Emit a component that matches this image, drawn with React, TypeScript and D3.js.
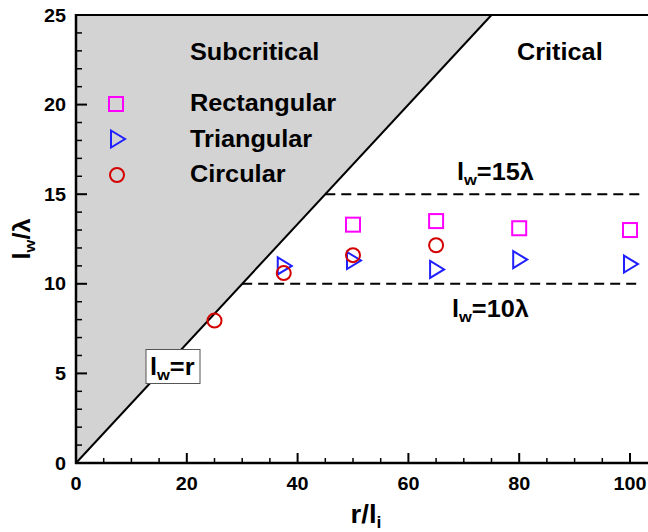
import * as d3 from "d3";

const rectX = [50, 65, 80, 100];
const rectY = [13.3, 13.5, 13.1, 13.0];
const triX = [37.5, 50, 65, 80, 100];
const triY = [11.0, 11.3, 10.8, 11.35, 11.1];
const circX = [25, 37.5, 50, 65];
const circY = [7.95, 10.6, 11.6, 12.15];
const xTicks = [0, 20, 40, 60, 80, 100];
const yTicks = [0, 5, 10, 15, 20, 25];
const boundarySlope = 1 / 3; // l_w/λ = (r/l_i) / 3
const limitLines = [10, 15];

const W = 648;
const H = 532;
const FONT = "'Liberation Sans', Arial, sans-serif";
const SX = 1.1; // picture looks a little stretched sideways

const x = d3.scaleLinear().domain([0, 100]).range([76, 630]);
const y = d3.scaleLinear().domain([0, 25]).range([463, 15]);
const xEnd = x.invert(W + 2);

function T({ x: tx, y: ty, size, anchor = "start", children, rotate = 0 }: any) {
  return (
    <text
      transform={`translate(${tx},${ty}) rotate(${rotate}) scale(${SX},1)`}
      fontFamily={FONT}
      fontWeight="bold"
      fontSize={size}
      textAnchor={anchor}
      fill="#000"
    >
      {children}
    </text>
  );
}

const triPath = "M-6,-8.5L8,0L-6,8.5Z";

export default function App() {
  const topX = x(25 / boundarySlope);
  const shade = `M${x(0)},${y(0)}L${topX},${y(25)}L${x(0)},${y(25)}Z`;
  const minorX = d3.range(0, xEnd, 5).filter((v) => v % 20 !== 0);
  const minorY = d3.range(0, 25, 1).filter((v) => v % 5 !== 0);

  return (
    <svg width={W} height={H} style={{ position: "absolute", left: 0, top: 0 }}>
      <rect width={W} height={H} fill="#fff" />
      <path d={shade} fill="#d3d3d3" />
      <line x1={x(0)} y1={y(0)} x2={topX} y2={y(25)} stroke="#000" strokeWidth={2} />

      {limitLines.map((v) => (
        <line
          key={v}
          x1={x(v / boundarySlope)}
          x2={x(102)}
          y1={y(v)}
          y2={y(v)}
          stroke="#000"
          strokeWidth={2}
          strokeDasharray="10,6"
        />
      ))}

      {/* frame + axes */}
      <line x1={x(0)} x2={W} y1={y(25)} y2={y(25)} stroke="#000" strokeWidth={2} />
      <line x1={x(0)} x2={x(0)} y1={y(0) + 1} y2={y(25) - 1} stroke="#000" strokeWidth={2.5} />
      <line x1={x(0) - 1} x2={W} y1={y(0)} y2={y(0)} stroke="#000" strokeWidth={2.5} />

      {xTicks.map((t) => (
        <g key={"xt" + t}>
          <line x1={x(t)} x2={x(t)} y1={y(0)} y2={y(0) - 10} stroke="#000" strokeWidth={2} />
          <T x={x(t)} y={490} size={18} anchor="middle">{t}</T>
        </g>
      ))}
      {minorX.map((t) => (
        <line key={"xm" + t} x1={x(t)} x2={x(t)} y1={y(0)} y2={y(0) - 5} stroke="#000" strokeWidth={1.5} />
      ))}
      {yTicks.map((t) => (
        <g key={"yt" + t}>
          <line x1={x(0)} x2={x(0) + 11} y1={y(t)} y2={y(t)} stroke="#000" strokeWidth={2} />
          <T x={66} y={y(t) + 6.5} size={18} anchor="end">{t}</T>
        </g>
      ))}
      {minorY.map((t) => (
        <line key={"ym" + t} x1={x(0)} x2={x(0) + 6} y1={y(t)} y2={y(t)} stroke="#000" strokeWidth={1.5} />
      ))}

      {/* axis titles */}
      <T x={366} y={523} size={25} anchor="middle">
        r/l<tspan fontSize={16} dy={5}>i</tspan>
      </T>
      <T x={30} y={239} size={23} anchor="middle" rotate={-90}>
        l<tspan fontSize={15} dy={5}>w</tspan>
        <tspan dy={-5}>/λ</tspan>
      </T>

      {/* region labels */}
      <T x={190} y={60} size={23}>Subcritical</T>
      <T x={517} y={60} size={23}>Critical</T>
      <T x={457} y={180} size={23}>
        l<tspan fontSize={15} dy={5}>w</tspan>
        <tspan dy={-5}>=15λ</tspan>
      </T>
      <T x={452} y={317} size={23}>
        l<tspan fontSize={15} dy={5}>w</tspan>
        <tspan dy={-5}>=10λ</tspan>
      </T>

      {/* l_w = r tag */}
      <rect x={146} y={349.5} width={54} height={34} fill="#fff" stroke="#555" strokeWidth={1} />
      <T x={150} y={375} size={23}>
        l<tspan fontSize={15} dy={5}>w</tspan>
        <tspan dy={-5}>=r</tspan>
      </T>

      {/* legend */}
      <rect x={109} y={97} width={14} height={14} fill="none" stroke="#ff00ff" strokeWidth={2} />
      <path d={triPath} transform="translate(117,139)" fill="none" stroke="#1f1fff" strokeWidth={2} />
      <circle cx={117} cy={175} r={7} fill="none" stroke="#d40000" strokeWidth={2} />
      <T x={190} y={111} size={23}>Rectangular</T>
      <T x={190} y={147} size={23}>Triangular</T>
      <T x={190} y={182} size={23}>Circular</T>

      {/* data */}
      {rectX.map((v, i) => (
        <rect
          key={"r" + i}
          x={x(v) - 7}
          y={y(rectY[i]) - 7}
          width={14}
          height={14}
          fill="none"
          stroke="#ff00ff"
          strokeWidth={2}
        />
      ))}
      {triX.map((v, i) => (
        <path
          key={"t" + i}
          d={triPath}
          transform={`translate(${x(v)},${y(triY[i])})`}
          fill="none"
          stroke="#1f1fff"
          strokeWidth={2}
        />
      ))}
      {circX.map((v, i) => (
        <circle key={"c" + i} cx={x(v)} cy={y(circY[i])} r={7} fill="none" stroke="#d40000" strokeWidth={2} />
      ))}
    </svg>
  );
}
